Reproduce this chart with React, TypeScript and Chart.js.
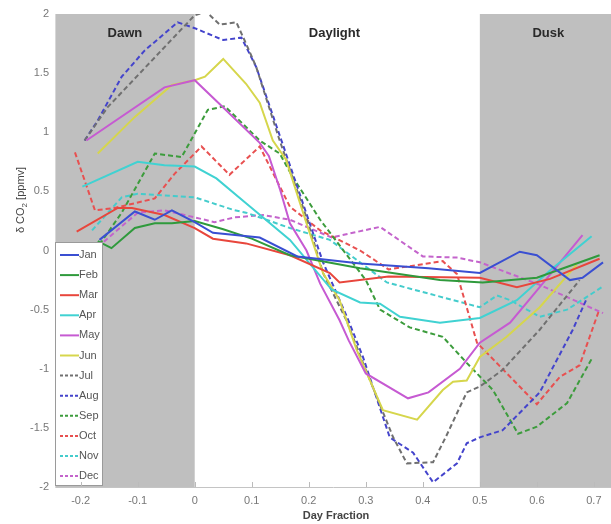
import React, { useEffect, useRef } from "react";
import { Chart, registerables } from "chart.js";

Chart.register(...registerables);

const months = ["Jan", "Feb", "Mar", "Apr", "May", "Jun", "Jul", "Aug", "Sep", "Oct", "Nov", "Dec"];
const colors = ["#3a4fd2", "#2f9a3c", "#e8463c", "#40d2d2", "#c65ad2", "#d6d64c", "#707070", "#4444cc", "#3c9c3c", "#e85050", "#44cccc", "#c464cc"];
const dashed = [false, false, false, false, false, false, true, true, true, true, true, true];

const xTicks = [-0.2, -0.1, 0, 0.1, 0.2, 0.3, 0.4, 0.5, 0.6, 0.7];
const yTicks = [-2, -1.5, -1, -0.5, 0, 0.5, 1, 1.5, 2];
const periods = ["Dawn", "Daylight", "Dusk"];

const janX = [-0.167, -0.105, -0.07, -0.04, 0, 0.032, 0.114, 0.18, 0.29, 0.41, 0.5, 0.57, 0.6, 0.658, 0.68, 0.716];
const janY = [0.09, 0.33, 0.26, 0.34, 0.24, 0.15, 0.11, -0.05, -0.11, -0.15, -0.19, -0.01, -0.04, -0.25, -0.23, -0.1];
const febX = [-0.17, -0.146, -0.105, -0.07, -0.04, 0, 0.05, 0.1, 0.167, 0.29, 0.43, 0.505, 0.6, 0.71];
const febY = [0.08, 0.02, 0.19, 0.23, 0.23, 0.25, 0.18, 0.1, -0.04, -0.15, -0.25, -0.27, -0.23, -0.04];
const marX = [-0.207, -0.135, -0.11, -0.053, 0, 0.032, 0.09, 0.167, 0.237, 0.254, 0.34, 0.5, 0.565, 0.623, 0.71];
const marY = [0.16, 0.36, 0.36, 0.3, 0.19, 0.1, 0.06, -0.04, -0.19, -0.27, -0.22, -0.23, -0.31, -0.24, -0.07];
const aprX = [-0.197, -0.1, -0.053, 0, 0.038, 0.09, 0.167, 0.2, 0.24, 0.29, 0.325, 0.36, 0.43, 0.5, 0.565, 0.623, 0.696];
const aprY = [0.54, 0.75, 0.72, 0.71, 0.61, 0.4, 0.09, -0.1, -0.33, -0.44, -0.45, -0.56, -0.61, -0.57, -0.42, -0.17, 0.12];
const mayX = [-0.19, -0.053, 0, 0.05, 0.114, 0.13, 0.15, 0.167, 0.196, 0.22, 0.254, 0.27, 0.3, 0.374, 0.41, 0.465, 0.5, 0.553, 0.605, 0.68];
const mayY = [0.93, 1.38, 1.44, 1.21, 0.91, 0.8, 0.51, 0.23, 0.0, -0.28, -0.59, -0.76, -1.04, -1.25, -1.2, -1.0, -0.78, -0.61, -0.31, 0.13];
const junX = [-0.17, -0.105, -0.04, 0, 0.018, 0.05, 0.09, 0.114, 0.137, 0.16, 0.196, 0.225, 0.254, 0.284, 0.33, 0.39, 0.435, 0.453, 0.477, 0.5, 0.547, 0.605, 0.67];
const junY = [0.82, 1.13, 1.4, 1.44, 1.47, 1.62, 1.41, 1.25, 0.93, 0.77, 0.23, -0.19, -0.42, -0.84, -1.35, -1.43, -1.18, -1.11, -1.1, -0.9, -0.73, -0.48, -0.12];
const julX = [-0.193, -0.153, 0, 0.02, 0.044, 0.073, 0.09, 0.108, 0.149, 0.196, 0.225, 0.266, 0.295, 0.348, 0.372, 0.418, 0.44, 0.477, 0.5, 0.54, 0.605, 0.675];
const julY = [0.93, 1.21, 1.99, 2.02, 1.91, 1.93, 1.75, 1.55, 0.93, 0.28, -0.19, -0.59, -0.95, -1.58, -1.8, -1.79, -1.58, -1.2, -1.15, -1.01, -0.67, -0.25];
const augX = [-0.193, -0.17, -0.128, -0.088, -0.03, 0, 0.05, 0.082, 0.108, 0.172, 0.225, 0.266, 0.295, 0.342, 0.383, 0.418, 0.46, 0.477, 0.5, 0.54, 0.605, 0.663, 0.688];
const augY = [0.93, 1.1, 1.47, 1.69, 1.93, 1.88, 1.78, 1.8, 1.55, 0.65, -0.1, -0.55, -0.9, -1.58, -1.71, -1.96, -1.8, -1.63, -1.58, -1.52, -1.2, -0.67, -0.4];
const sepX = [-0.167, -0.128, -0.07, -0.023, 0.023, 0.053, 0.114, 0.149, 0.172, 0.22, 0.3, 0.325, 0.377, 0.435, 0.477, 0.523, 0.567, 0.6, 0.653, 0.698];
const sepY = [0.05, 0.32, 0.82, 0.79, 1.19, 1.22, 0.93, 0.82, 0.62, 0.26, -0.25, -0.5, -0.65, -0.73, -0.95, -1.18, -1.55, -1.49, -1.29, -0.9];
const octX = [-0.21, -0.175, -0.14, -0.07, -0.035, 0.012, 0.061, 0.114, 0.167, 0.22, 0.29, 0.34, 0.435, 0.46, 0.495, 0.6, 0.64, 0.675, 0.708];
const octY = [0.83, 0.34, 0.36, 0.44, 0.65, 0.88, 0.64, 0.88, 0.37, 0.17, 0.0, -0.16, -0.09, -0.2, -0.78, -1.3, -1.07, -0.97, -0.52];
const novX = [-0.18, -0.128, -0.1, 0, 0.07, 0.09, 0.167, 0.237, 0.337, 0.5, 0.53, 0.553, 0.605, 0.653, 0.714];
const novY = [0.17, 0.45, 0.48, 0.45, 0.34, 0.32, 0.19, 0.09, -0.27, -0.48, -0.38, -0.42, -0.56, -0.5, -0.31];
const decX = [-0.17, -0.1, -0.053, 0, 0.035, 0.07, 0.12, 0.167, 0.24, 0.325, 0.4, 0.46, 0.5, 0.605, 0.623, 0.716];
const decY = [0.03, 0.32, 0.34, 0.28, 0.24, 0.28, 0.3, 0.26, 0.11, 0.2, -0.05, -0.06, -0.1, -0.29, -0.33, -0.53];

const seriesX = [janX, febX, marX, aprX, mayX, junX, julX, augX, sepX, octX, novX, decX];
const seriesY = [janY, febY, marY, aprY, mayY, junY, julY, augY, sepY, octY, novY, decY];

const FONT = "'Liberation Sans', Arial, sans-serif";
const DASH = [5, 3];

const backdropPlugin = {
  id: "backdrop",
  beforeDraw(chart: any) {
    const { ctx, chartArea, scales } = chart;
    const x = scales.x;
    ctx.save();
    ctx.fillStyle = "#bfbfbf";
    const x0 = x.getPixelForValue(0);
    const x5 = x.getPixelForValue(0.5);
    ctx.fillRect(chartArea.left, chartArea.top, x0 - chartArea.left, chartArea.bottom - chartArea.top);
    ctx.fillRect(x5, chartArea.top, chartArea.right - x5, chartArea.bottom - chartArea.top);
    ctx.restore();
  },
  afterDraw(chart: any) {
    const { ctx, chartArea, scales } = chart;
    const x = scales.x;
    ctx.save();
    ctx.strokeStyle = "#bbbbbb";
    ctx.lineWidth = 1;
    xTicks.forEach((t) => {
      const px = Math.round(x.getPixelForValue(t)) + 0.5;
      ctx.beginPath();
      ctx.moveTo(px, chartArea.bottom);
      ctx.lineTo(px, chartArea.bottom - 5);
      ctx.stroke();
    });
    ctx.fillStyle = "#2a2a2a";
    ctx.font = `bold 13px ${FONT}`;
    ctx.textAlign = "center";
    ctx.textBaseline = "middle";
    const centers = [(chartArea.left + x.getPixelForValue(0)) / 2, x.getPixelForValue(0.245), x.getPixelForValue(0.62)];
    periods.forEach((p, i) => ctx.fillText(p, centers[i], 33));
    ctx.save();
    ctx.translate(21, 200);
    ctx.rotate(-Math.PI / 2);
    ctx.fillStyle = "#444";
    ctx.font = `11px ${FONT}`;
    ctx.textBaseline = "middle";
    ctx.textAlign = "left";
    const a = "\u03b4 CO";
    const b = "2";
    const c = " [ppmv]";
    const wa = ctx.measureText(a).width;
    ctx.font = `8px ${FONT}`;
    const wb = ctx.measureText(b).width;
    ctx.font = `11px ${FONT}`;
    const wc = ctx.measureText(c).width;
    let sx = -(wa + wb + wc) / 2;
    ctx.fillText(a, sx, 0);
    sx += wa;
    ctx.font = `8px ${FONT}`;
    ctx.fillText(b, sx, 4);
    sx += wb;
    ctx.font = `11px ${FONT}`;
    ctx.fillText(c, sx, 0);
    ctx.restore();
    ctx.fillStyle = "#444";
    ctx.font = `bold 11px ${FONT}`;
    ctx.textAlign = "center";
    ctx.fillText("Day Fraction", 336, 516);
    ctx.restore();
  },
  afterDatasetsDraw(chart: any) {
    const { ctx } = chart;
    ctx.save();
    const left = 55.5, top = 242.5, w = 47, h = 243;
    ctx.fillStyle = "#ffffff";
    ctx.fillRect(left, top, w, h);
    ctx.strokeStyle = "#9a9a9a";
    ctx.lineWidth = 1;
    ctx.strokeRect(left, top, w, h);
    ctx.font = `11px ${FONT}`;
    ctx.textBaseline = "middle";
    ctx.textAlign = "left";
    months.forEach((m, i) => {
      const y = 255 + i * 20.1;
      ctx.strokeStyle = colors[i];
      ctx.lineWidth = 2;
      ctx.setLineDash(dashed[i] ? [3, 2] : []);
      ctx.beginPath();
      ctx.moveTo(60, y);
      ctx.lineTo(79, y);
      ctx.stroke();
      ctx.setLineDash([]);
      ctx.fillStyle = "#555";
      ctx.fillText(m, 79, y);
    });
    ctx.restore();
  },
};

export default function App() {
  const ref = useRef<HTMLCanvasElement>(null);
  useEffect(() => {
    if (!ref.current) return;
    const datasets = months.map((m, i) => ({
      label: m,
      data: seriesX[i].map((x, j) => ({ x, y: seriesY[i][j] })),
      borderColor: colors[i],
      backgroundColor: colors[i],
      borderWidth: 2,
      borderDash: dashed[i] ? DASH : [],
      pointRadius: 0,
      tension: 0,
      fill: false,
    }));
    const chart = new Chart(ref.current, {
      type: "line",
      data: { datasets },
      options: {
        animation: false,
        responsive: false,
        devicePixelRatio: 1,
        layout: { padding: { top: 14, right: 0, left: 0, bottom: 0 } },
        plugins: { legend: { display: false }, tooltip: { enabled: false } },
        scales: {
          x: {
            type: "linear",
            min: -0.245,
            max: 0.73,
            afterBuildTicks: (s: any) => {
              s.ticks = xTicks.map((v) => ({ value: v }));
            },
            afterFit: (s: any) => {
              s.height = 37;
            },
            grid: { display: false, drawTicks: false },
            border: { display: true, color: "#c4c4c4", width: 1 },
            ticks: {
              padding: 7,
              color: "#777",
              font: { size: 11, family: FONT },
              maxRotation: 0,
              callback: (v: any) => String(Math.round(Number(v) * 10) / 10),
            },
          },
          y: {
            type: "linear",
            min: -2,
            max: 2,
            afterBuildTicks: (s: any) => {
              s.ticks = yTicks.map((v) => ({ value: v }));
            },
            afterFit: (s: any) => {
              s.width = 55;
            },
            grid: { display: false, drawTicks: false },
            border: { display: true, color: "#d8d8d8", width: 1 },
            ticks: {
              padding: 6,
              color: "#777",
              font: { size: 11, family: FONT },
              callback: (v: any) => String(v),
            },
          },
        },
      },
      plugins: [backdropPlugin],
    });
    return () => chart.destroy();
  }, []);
  return (
    <div style={{ position: "fixed", left: 0, top: 0, width: 611, height: 524, background: "#fff" }}>
      <canvas ref={ref} width={611} height={524} />
    </div>
  );
}
